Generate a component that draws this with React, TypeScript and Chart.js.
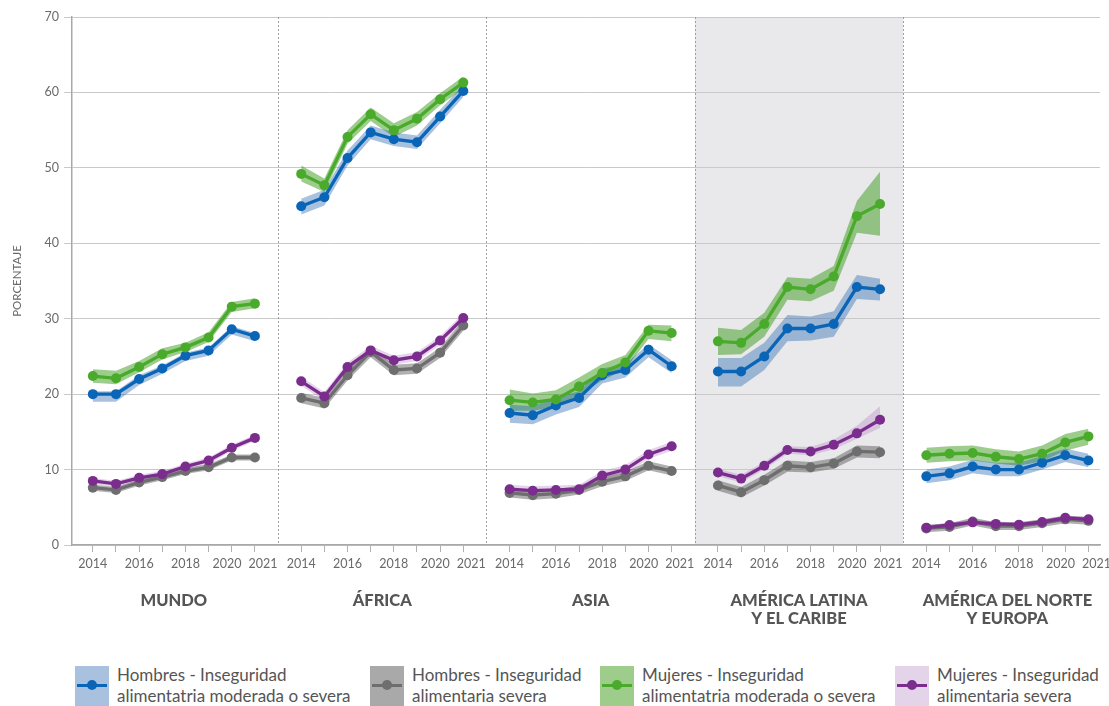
import React, { useEffect, useRef } from "react";
import { Chart, registerables } from "chart.js";

Chart.register(...registerables);

const YEARS = [2014, 2015, 2016, 2017, 2018, 2019, 2020, 2021];
const SHOWN_YEARS = [2014, 2016, 2018, 2020, 2021];
const REGIONS: string[][] = [
  ["MUNDO"],
  ["ÁFRICA"],
  ["ASIA"],
  ["AMÉRICA LATINA", "Y EL CARIBE"],
  ["AMÉRICA DEL NORTE", "Y EUROPA"],
];
const Y_TICKS = [0, 10, 20, 30, 40, 50, 60, 70];

// Hombres - moderada o severa
const hombresModVal = [
  [20.0, 20.0, 22.0, 23.4, 25.1, 25.8, 28.6, 27.7],
  [44.9, 46.1, 51.3, 54.7, 53.8, 53.4, 56.8, 60.2],
  [17.5, 17.2, 18.5, 19.5, 22.5, 23.2, 25.9, 23.7],
  [23.0, 23.0, 25.0, 28.7, 28.7, 29.3, 34.2, 33.9],
  [9.1, 9.5, 10.4, 10.0, 10.0, 10.9, 11.9, 11.2],
];
const hombresModLow = [
  [19.0, 19.0, 21.2, 22.7, 24.4, 25.1, 27.9, 27.0],
  [43.8, 45.0, 50.3, 53.8, 52.9, 52.5, 55.9, 59.4],
  [16.2, 16.0, 17.3, 18.3, 21.4, 22.2, 24.9, 22.8],
  [21.0, 21.0, 23.2, 27.0, 27.1, 27.6, 32.6, 32.4],
  [8.2, 8.6, 9.5, 9.1, 9.1, 10.0, 11.0, 10.3],
];
const hombresModHigh = [
  [20.4, 20.4, 22.5, 23.8, 25.5, 26.2, 29.0, 28.1],
  [45.9, 47.1, 52.3, 55.6, 54.7, 54.3, 57.7, 61.0],
  [18.6, 18.4, 19.6, 20.4, 23.4, 24.0, 26.6, 24.5],
  [24.8, 24.8, 26.8, 30.5, 30.3, 31.0, 35.8, 35.3],
  [10.0, 10.4, 11.3, 10.9, 10.9, 11.8, 12.8, 12.1],
];

// Hombres - severa
const hombresSevVal = [
  [7.6, 7.3, 8.3, 9.0, 9.8, 10.3, 11.6, 11.6],
  [19.5, 18.8, 22.5, 25.6, 23.2, 23.4, 25.5, 29.1],
  [6.9, 6.6, 6.8, 7.3, 8.4, 9.1, 10.5, 9.8],
  [7.9, 7.0, 8.6, 10.5, 10.3, 10.8, 12.4, 12.3],
  [2.2, 2.4, 3.1, 2.5, 2.5, 2.9, 3.4, 3.2],
];
const hombresSevLow = [
  [7.2, 6.9, 7.9, 8.6, 9.4, 9.9, 11.2, 11.2],
  [18.8, 18.1, 21.8, 24.9, 22.5, 22.7, 24.8, 28.4],
  [6.3, 6.0, 6.2, 6.7, 7.8, 8.5, 9.9, 9.2],
  [7.2, 6.3, 7.9, 9.7, 9.6, 10.1, 11.6, 11.5],
  [1.7, 1.9, 2.6, 2.0, 2.0, 2.4, 2.9, 2.7],
];
const hombresSevHigh = [
  [8.0, 7.7, 8.7, 9.4, 10.2, 10.7, 12.0, 12.0],
  [20.2, 19.5, 23.2, 26.3, 23.9, 24.1, 26.2, 29.8],
  [7.5, 7.2, 7.4, 7.9, 9.0, 9.7, 11.1, 10.4],
  [8.6, 7.7, 9.3, 11.2, 11.0, 11.5, 13.2, 13.1],
  [2.7, 2.9, 3.6, 3.0, 3.0, 3.4, 3.9, 3.7],
];

// Mujeres - moderada o severa
const mujeresModVal = [
  [22.4, 22.1, 23.6, 25.3, 26.2, 27.5, 31.6, 32.0],
  [49.2, 47.7, 54.1, 57.1, 55.0, 56.5, 59.1, 61.3],
  [19.2, 18.9, 19.3, 21.0, 22.8, 24.2, 28.4, 28.1],
  [27.0, 26.8, 29.3, 34.2, 33.9, 35.6, 43.6, 45.2],
  [11.9, 12.1, 12.2, 11.7, 11.4, 12.1, 13.6, 14.4],
];
const mujeresModLow = [
  [21.5, 21.3, 22.9, 24.6, 25.6, 26.9, 30.9, 31.4],
  [48.2, 46.8, 53.2, 56.2, 54.1, 55.6, 58.3, 60.5],
  [17.8, 17.8, 18.3, 19.9, 21.8, 23.3, 27.3, 27.0],
  [25.2, 25.3, 27.6, 32.5, 32.3, 33.7, 41.4, 41.0],
  [10.9, 11.1, 11.2, 10.8, 10.5, 11.1, 12.5, 13.3],
];
const mujeresModHigh = [
  [23.3, 23.1, 24.4, 26.1, 26.8, 28.2, 32.2, 32.7],
  [50.3, 48.6, 55.0, 58.0, 55.9, 57.4, 59.9, 62.1],
  [20.6, 20.1, 20.5, 22.2, 24.0, 25.2, 29.2, 29.1],
  [28.8, 28.5, 30.8, 35.5, 35.3, 37.0, 45.6, 49.5],
  [12.9, 13.1, 13.2, 12.7, 12.4, 13.2, 14.7, 15.4],
];

// Mujeres - severa
const mujeresSevVal = [
  [8.5, 8.1, 8.9, 9.4, 10.4, 11.2, 12.9, 14.2],
  [21.7, 19.7, 23.6, 25.8, 24.5, 25.0, 27.1, 30.1],
  [7.4, 7.2, 7.3, 7.4, 9.2, 10.0, 12.0, 13.1],
  [9.6, 8.8, 10.5, 12.6, 12.4, 13.3, 14.8, 16.6],
  [2.3, 2.65, 3.0, 2.8, 2.7, 3.05, 3.6, 3.4],
];
const mujeresSevLow = [
  [8.0, 7.7, 8.5, 9.0, 9.9, 10.7, 12.5, 13.8],
  [21.1, 19.1, 23.0, 25.2, 23.9, 24.4, 26.5, 29.5],
  [6.8, 6.6, 6.7, 6.8, 8.6, 9.4, 11.4, 12.5],
  [9.1, 8.3, 10.0, 12.1, 11.9, 12.7, 14.1, 15.5],
  [2.0, 2.35, 2.7, 2.5, 2.4, 2.75, 3.3, 3.1],
];
const mujeresSevHigh = [
  [8.9, 8.5, 9.3, 9.8, 10.8, 11.6, 13.3, 14.6],
  [22.3, 20.3, 24.2, 26.4, 25.1, 25.6, 27.7, 30.7],
  [8.0, 7.8, 7.9, 8.0, 9.8, 10.6, 12.6, 13.7],
  [10.1, 9.3, 11.0, 13.1, 13.0, 14.0, 15.8, 18.4],
  [2.6, 2.95, 3.3, 3.1, 3.0, 3.35, 3.9, 3.7],
];

const SERIES = [
  {
    label: "Hombres - Inseguridad alimentatria moderada o severa",
    lines: ["Hombres - Inseguridad", "alimentatria moderada o severa"],
    val: hombresModVal, low: hombresModLow, high: hombresModHigh,
    color: "#0a65b6", band: "rgba(35,100,175,0.40)", box: "#a8c1de", order: 4,
  },
  {
    label: "Hombres - Inseguridad alimentaria severa",
    lines: ["Hombres - Inseguridad", "alimentaria severa"],
    val: hombresSevVal, low: hombresSevLow, high: hombresSevHigh,
    color: "#6e6e6e", band: "rgba(80,80,80,0.45)", box: "#a9a9a9", order: 3,
  },
  {
    label: "Mujeres - Inseguridad alimentatria moderada o severa",
    lines: ["Mujeres - Inseguridad", "alimentatria moderada o severa"],
    val: mujeresModVal, low: mujeresModLow, high: mujeresModHigh,
    color: "#4aaa2c", band: "rgba(60,155,25,0.50)", box: "#9dcc8b", order: 2,
  },
  {
    label: "Mujeres - Inseguridad alimentaria severa",
    lines: ["Mujeres - Inseguridad", "alimentaria severa"],
    val: mujeresSevVal, low: mujeresSevLow, high: mujeresSevHigh,
    color: "#7b2d8e", band: "rgba(160,100,180,0.28)", box: "#e4d4ea", order: 1,
  },
];

const PANEL = 9;
const xOf = (p: number, i: number) => PANEL * p + 1 + i;
const TEXT = "#555555";

const panelsPlugin = {
  id: "panels",
  beforeDraw(chart: any) {
    const { ctx, chartArea, scales } = chart;
    const x = scales.x;
    ctx.save();
    ctx.fillStyle = "#e9e9ec";
    const l = x.getPixelForValue(PANEL * 3);
    const r = x.getPixelForValue(PANEL * 4);
    ctx.fillRect(l, chartArea.top, r - l, chartArea.bottom - chartArea.top);
    ctx.restore();
  },
  afterDatasetsDraw(chart: any) {
    const { ctx, chartArea, scales } = chart;
    const x = scales.x;
    ctx.save();
    ctx.strokeStyle = "#a0a0a0";
    ctx.lineWidth = 1;
    ctx.setLineDash([2, 2]);
    for (let p = 1; p < REGIONS.length; p++) {
      const px = Math.round(x.getPixelForValue(PANEL * p)) + 0.5;
      ctx.beginPath();
      ctx.moveTo(px, chartArea.top);
      ctx.lineTo(px, chartArea.bottom);
      ctx.stroke();
    }
    ctx.restore();
  },
  afterDraw(chart: any) {
    const { ctx, chartArea, scales } = chart;
    const x = scales.x;
    ctx.save();
    ctx.fillStyle = "#555555";
    ctx.font = `900 16.5px Lato, sans-serif`;
    ctx.textAlign = "center";
    ctx.textBaseline = "middle";
    REGIONS.forEach((lines, p) => {
      const cx = x.getPixelForValue(PANEL * p + 4.5);
      lines.forEach((t, k) => {
        ctx.fillText(t, cx, chartArea.bottom + 56 + k * 17.5);
      });
    });
    ctx.restore();
  },
};

function LegendItem({ s }: { s: (typeof SERIES)[number] }) {
  return (
    <div style={{ display: "flex", alignItems: "flex-start" }}>
      <div
        style={{
          position: "relative",
          width: 34,
          height: 40,
          background: s.box,
          marginRight: 8,
          flex: "none",
        }}
      >
        <div
          style={{
            position: "absolute",
            left: 2,
            right: 2,
            top: 18,
            height: 3,
            background: s.color,
          }}
        />
        <div
          style={{
            position: "absolute",
            left: 12,
            top: 14,
            width: 10,
            height: 10,
            borderRadius: 5,
            background: s.color,
          }}
        />
      </div>
      <div
        style={{
          fontFamily: "Lato, sans-serif",
          fontSize: 17,
          lineHeight: "21px",
          color: TEXT,
          marginTop: -2,
          whiteSpace: "nowrap",
        }}
      >
        {s.lines.map((t) => (
          <div key={t}>{t}</div>
        ))}
      </div>
    </div>
  );
}

export default function App() {
  const ref = useRef<HTMLCanvasElement>(null);

  useEffect(() => {
    const datasets: any[] = [];
    SERIES.forEach((s) => {
      REGIONS.forEach((_, p) => {
        const low = YEARS.map((_, i) => ({ x: xOf(p, i), y: s.low[p][i] }));
        const high = YEARS.map((_, i) => ({ x: xOf(p, i), y: s.high[p][i] }));
        const val = YEARS.map((_, i) => ({ x: xOf(p, i), y: s.val[p][i] }));
        datasets.push({
          data: low,
          borderWidth: 0,
          borderColor: "rgba(0,0,0,0)",
          pointRadius: 0,
          fill: false,
          order: 10,
        });
        datasets.push({
          data: high,
          borderWidth: 0,
          borderColor: "rgba(0,0,0,0)",
          pointRadius: 0,
          fill: "-1",
          backgroundColor: s.band,
          order: 10,
        });
        datasets.push({
          label: s.label,
          data: val,
          borderColor: s.color,
          backgroundColor: s.color,
          borderWidth: 3.3,
          pointRadius: 5,
          pointBorderWidth: 0,
          pointBackgroundColor: s.color,
          fill: false,
          order: s.order,
        });
      });
    });

    const tickValues = REGIONS.flatMap((_, p) => YEARS.map((_, i) => xOf(p, i)));

    const chart = new Chart(ref.current as HTMLCanvasElement, {
      type: "line",
      data: { datasets },
      options: {
        animation: false,
        responsive: true,
        maintainAspectRatio: false,
        layout: { padding: { top: 17, right: 9, left: 0, bottom: 0 } },
        plugins: {
          legend: { display: false },
          tooltip: { enabled: false },
          filler: { drawTime: "beforeDatasetsDraw", propagate: false },
        } as any,
        scales: {
          x: {
            type: "linear",
            min: 0.1,
            max: 44.5,
            afterBuildTicks: (scale: any) => {
              scale.ticks = tickValues.map((v) => ({ value: v }));
            },
            afterFit: (scale: any) => {
              scale.height = 95;
              scale.paddingLeft = 0;
              scale.paddingRight = 0;
            },
            ticks: {
              autoSkip: false,
              maxRotation: 0,
              padding: 4,
              color: "#6a6a6a",
              font: { family: "Lato, sans-serif", size: 12.5 },
              callback: (v: any) => {
                const n = Number(v);
                const i = Math.round(n - 1) % PANEL;
                const y = YEARS[i];
                if (!SHOWN_YEARS.includes(y)) return "";
                if (y === 2020) return "2020   ";
                if (y === 2021) return "     2021";
                return String(y);
              },
            },
            grid: {
              drawOnChartArea: false,
              drawTicks: true,
              tickLength: 7,
              color: "#b0b0b0",
            },
            border: { display: true, color: "#a8a8a8", width: 1.5 },
          },
          y: {
            type: "linear",
            min: 0,
            max: 70,
            afterBuildTicks: (scale: any) => {
              scale.ticks = Y_TICKS.map((v) => ({ value: v }));
            },
            afterFit: (scale: any) => {
              scale.width = 72;
            },
            title: {
              display: true,
              text: "PORCENTAJE",
              color: "#6a6a6a",
              font: { family: "Lato, sans-serif", size: 11.5 },
              padding: { top: 10, bottom: 0 },
            },
            ticks: {
              color: "#6a6a6a",
              padding: 5,
              font: { family: "Lato, sans-serif", size: 12.5 },
            },
            grid: {
              color: "#c9c9c9",
              lineWidth: 1,
              tickLength: 8,
              drawTicks: true,
            },
            border: { display: true, color: "#a8a8a8", width: 1.5 },
          },
        },
      },
      plugins: [panelsPlugin],
    });
    return () => chart.destroy();
  }, []);

  const legendX = [75, 370, 600, 895];

  return (
    <div style={{ position: "absolute", left: 0, top: 0, width: 1109, height: 706, background: "#fff", overflow: "hidden" }}>
      <div style={{ position: "absolute", left: 0, top: 0, width: 1109, height: 640 }}>
        <canvas ref={ref} />
      </div>
      {SERIES.map((s, k) => (
        <div key={s.label} style={{ position: "absolute", left: legendX[k], top: 666 }}>
          <LegendItem s={s} />
        </div>
      ))}
    </div>
  );
}
